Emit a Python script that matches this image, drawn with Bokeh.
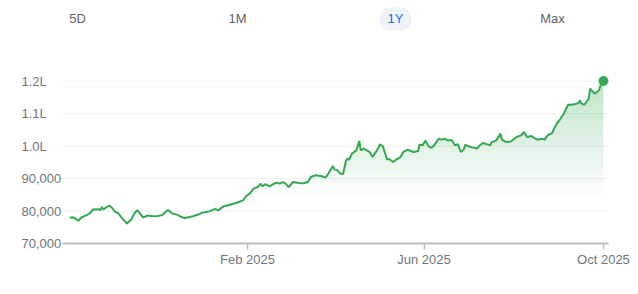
import numpy as np
import pandas as pd
from bokeh.plotting import figure
from bokeh.models import Range1d, FixedTicker, DatetimeTickFormatter, Label, BoxAnnotation
from bokeh.embed import file_html
from bokeh.resources import INLINE

# ---------------- data ----------------
dates = [
    "2024-10-03", "2024-10-05", "2024-10-07", "2024-10-09", "2024-10-11", "2024-10-15",
    "2024-10-17", "2024-10-19", "2024-10-23", "2024-10-24", "2024-10-25", "2024-10-26",
    "2024-10-30", "2024-11-01", "2024-11-03", "2024-11-05", "2024-11-07", "2024-11-09",
    "2024-11-11", "2024-11-14", "2024-11-16", "2024-11-18", "2024-11-20", "2024-11-22",
    "2024-11-25", "2024-11-29", "2024-12-02", "2024-12-05", "2024-12-07", "2024-12-09",
    "2024-12-12", "2024-12-15", "2024-12-17", "2024-12-20", "2024-12-23", "2024-12-26",
    "2024-12-30", "2025-01-01", "2025-01-03", "2025-01-06", "2025-01-10", "2025-01-12",
    "2025-01-16", "2025-01-19", "2025-01-23", "2025-01-26", "2025-01-29", "2025-01-31",
    "2025-02-03", "2025-02-05", "2025-02-08", "2025-02-10", "2025-02-11", "2025-02-13",
    "2025-02-16", "2025-02-19", "2025-02-21", "2025-02-23", "2025-02-25", "2025-02-27",
    "2025-03-01", "2025-03-04", "2025-03-08", "2025-03-11", "2025-03-14", "2025-03-16",
    "2025-03-19", "2025-03-23", "2025-03-26", "2025-03-28", "2025-03-31", "2025-04-01",
    "2025-04-03", "2025-04-05", "2025-04-07", "2025-04-09", "2025-04-10", "2025-04-11",
    "2025-04-13", "2025-04-16", "2025-04-18", "2025-04-19", "2025-04-21", "2025-04-23",
    "2025-04-25", "2025-04-27", "2025-04-30", "2025-05-02", "2025-05-04", "2025-05-06",
    "2025-05-07", "2025-05-08", "2025-05-11", "2025-05-13", "2025-05-16", "2025-05-18",
    "2025-05-21", "2025-05-23", "2025-05-25", "2025-05-28", "2025-05-29", "2025-05-31",
    "2025-06-02", "2025-06-04", "2025-06-06", "2025-06-08", "2025-06-11", "2025-06-13",
    "2025-06-15", "2025-06-17", "2025-06-20", "2025-06-22", "2025-06-24", "2025-06-26",
    "2025-06-28", "2025-06-29", "2025-07-01", "2025-07-03", "2025-07-07", "2025-07-09",
    "2025-07-11", "2025-07-14", "2025-07-16", "2025-07-17", "2025-07-20", "2025-07-23",
    "2025-07-24", "2025-07-27", "2025-07-30", "2025-08-03", "2025-08-06", "2025-08-08",
    "2025-08-10", "2025-08-13", "2025-08-15", "2025-08-17", "2025-08-20", "2025-08-22",
    "2025-08-24", "2025-08-27", "2025-08-29", "2025-08-31", "2025-09-01", "2025-09-04",
    "2025-09-07", "2025-09-09", "2025-09-12", "2025-09-14", "2025-09-15", "2025-09-16",
    "2025-09-18", "2025-09-21", "2025-09-22", "2025-09-25", "2025-09-28", "2025-09-29",
    "2025-10-01",
]
close = [
    77900, 78100, 77700, 77000, 78000, 78800,
    79400, 80500, 80550, 80250, 81250, 80500,
    81700, 80950, 79700, 79400, 78200, 77150,
    76150, 77400, 79200, 80250, 79200, 78000,
    78600, 78400, 78500, 78800, 79600, 80350,
    79200, 78900, 78400, 77800, 78100, 78400,
    79000, 79500, 79600, 79900, 80650, 80200,
    81500, 81800, 82300, 82800, 83300, 84550,
    85600, 86900, 87400, 88450, 87600, 88250,
    87600, 88450, 88750, 88450, 88950, 88450,
    87400, 88950, 88650, 88550, 88950, 90500,
    91000, 90800, 90300, 91550, 93900, 92850,
    92600, 91550, 91400, 95600, 96150, 95800,
    97700, 98700, 101600, 98700, 99200, 98700,
    98200, 96650, 98700, 100550, 99950, 97150,
    95850, 96100, 95100, 95850, 96650, 98200,
    98900, 98500, 98200, 98500, 100500, 100300,
    101700, 100000, 99500, 100300, 102300, 102000,
    102300, 101800, 101800, 100250, 100600, 98200,
    99000, 100450, 100000, 99700, 99300, 100250,
    100950, 100550, 100250, 101250, 101700, 103850,
    102000, 101250, 101450, 102800, 103300, 104350,
    102800, 103100, 102500, 102000, 102300, 102000,
    103300, 104000, 105900, 107400, 107900, 110000,
    112750, 112750, 113000, 113300, 114100, 113100,
    112750, 114600, 117700, 116150, 117200, 118700,
    120100,
]
y_ticks = [70000, 80000, 90000, 100000, 110000, 120000]
y_tick_labels = ["70,000", "80,000", "90,000", "1.0L", "1.1L", "1.2L"]
x_ticks = ["2025-02-01", "2025-06-01", "2025-10-01"]
range_buttons = ["5D", "1M", "1Y", "Max"]
selected_range = "1Y"

# ---------------- styling / layout ----------------
GREEN = "#34a853"
AXIS_TXT = "#70757a"
FONT = "Liberation Sans"
W, H = 638, 294
PLOT_L, PLOT_R = 62, 608          # visible plotting area (axis line extent)
AXIS_Y = 243                      # canvas y of the 70,000 axis line
X_START = pd.Timestamp("2024-09-28 05:00")   # date at PLOT_L
X_END = pd.Timestamp("2025-10-04 10:00")     # date at PLOT_R
Y_MIN, Y_AT_TOP = 70000, 123000              # value range across 172 px
Y_PX = 172

x = pd.to_datetime(dates)
y = np.array(close, dtype=float)

dt_px = (X_END - X_START) / (PLOT_R - PLOT_L)
val_px = (Y_AT_TOP - Y_MIN) / Y_PX
x_range = Range1d(X_START - PLOT_L * dt_px, X_END + (W - PLOT_R) * dt_px)
y_range = Range1d(Y_MIN - (H - AXIS_Y) * val_px, Y_MIN + AXIS_Y * val_px)

p = figure(
    width=W, height=H,
    x_axis_type="datetime", x_range=x_range, y_range=y_range,
    output_backend="svg", toolbar_location=None,
    min_border_left=0, min_border_right=0, min_border_top=0, min_border_bottom=0,
)
p.outline_line_color = None
p.background_fill_color = "white"
p.border_fill_color = "white"
p.xgrid.visible = False
p.ygrid.visible = False
p.yaxis.visible = False

# x axis, pinned at 70,000
xt = [pd.Timestamp(d).value // 10**6 for d in x_ticks]
p.xaxis.fixed_location = Y_MIN
p.xaxis.ticker = FixedTicker(ticks=xt)
fmt = "%b %Y"
p.xaxis.formatter = DatetimeTickFormatter(days=fmt, months=fmt, years=fmt, hours=fmt,
                                          minutes=fmt, seconds=fmt, milliseconds=fmt,
                                          minsec=fmt, hourmin=fmt)
p.xaxis.bounds = (X_START.to_pydatetime(), X_END.to_pydatetime())
p.xaxis.axis_line_color = "#bdbdc0"
p.xaxis.axis_line_width = 2
p.xaxis.major_tick_line_color = "#bdbdc0"
p.xaxis.major_tick_line_width = 1.5
p.xaxis.major_tick_out = 6
p.xaxis.major_tick_in = 0
p.xaxis.minor_tick_out = 0
p.xaxis.minor_tick_in = 0
p.xaxis.major_label_text_font = FONT
p.xaxis.major_label_text_font_size = "13px"
p.xaxis.major_label_text_color = AXIS_TXT
p.xaxis.major_label_standoff = 2

# horizontal grid lines
grid_vals = y_ticks[1:]
p.segment(x0=[X_START] * len(grid_vals), y0=grid_vals,
          x1=[X_END - dt_px] * len(grid_vals), y1=grid_vals,
          line_color="#efefef", line_width=1)

# gradient fill under the line (bands of increasing opacity)
lo, hi, step = 83000, 123000, 1000
for a in range(lo, hi, step):
    b = a + step
    alpha = min(0.32, 0.32 * ((a + step / 2) - lo) / (121000 - lo))
    p.varea(x=x, y1=a, y2=np.clip(y, a, b), fill_color=GREEN, fill_alpha=alpha)

p.line(x, y, line_color=GREEN, line_width=2)
p.scatter(x=[x[-1]], y=[y[-1]], size=9, color=GREEN)

# y tick labels (left aligned)
for v, t in zip(y_ticks, y_tick_labels):
    p.add_layout(Label(x=21, y=v, x_units="screen", y_units="data", text=t,
                       text_align="left", text_baseline="middle", text_font=FONT,
                       text_font_size="13px", text_color=AXIS_TXT))

# range selector
btn_x = [77, 237, 395, 552]
btn_y = 18
for bx, t in zip(btn_x, range_buttons):
    if t == selected_range:
        p.add_layout(BoxAnnotation(left=bx - 16, right=bx + 16,
                                   top=H - 7, bottom=H - 30,
                                   left_units="screen", right_units="screen",
                                   top_units="screen", bottom_units="screen",
                                   fill_color="#eff2f9", fill_alpha=1, line_color=None,
                                   border_radius=11))
    p.add_layout(Label(x=bx, y=H - btn_y, x_units="screen", y_units="screen",
                       text=t, text_align="center", text_baseline="middle", text_font=FONT,
                       text_font_size="13px",
                       text_color="#1a73e8" if t == selected_range else "#5f6368"))

open("out.html", "w").write(file_html(p, INLINE))
